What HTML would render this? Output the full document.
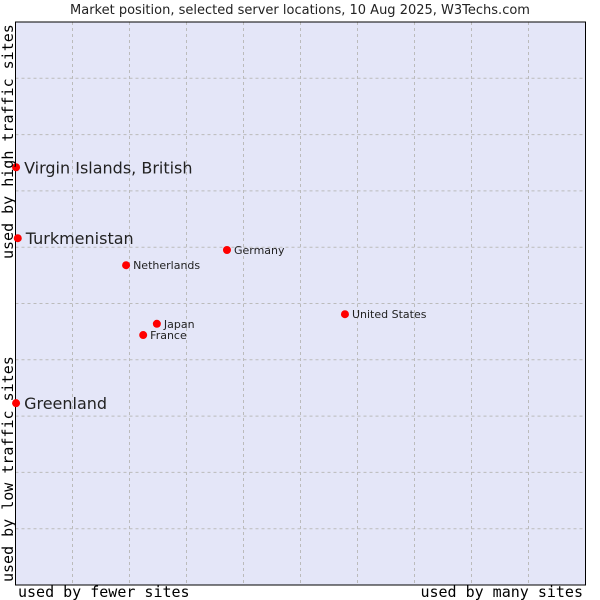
<!DOCTYPE html>
<html><head><meta charset="utf-8"><style>body{margin:0;background:#fff}svg{display:block}</style></head>
<body>
<svg id="chart" width="600" height="600" xmlns="http://www.w3.org/2000/svg" font-family="DejaVu Sans, Liberation Sans, sans-serif">
<text x="300" y="14" text-anchor="middle" font-size="13" fill="#222">Market position, selected server locations, 10 Aug 2025, W3Techs.com</text>
<rect x="15.5" y="22" width="570" height="563" fill="#e4e6f8"/>
<g id="grid"></g>
<rect x="15.5" y="22" width="570" height="563" fill="none" stroke="#000" stroke-width="1"/>
<g id="points"></g>
<text x="18" y="597" font-family="DejaVu Sans Mono, Liberation Mono, monospace" font-size="15" fill="#000">used by fewer sites</text>
<text x="583" y="597" text-anchor="end" font-family="DejaVu Sans Mono, Liberation Mono, monospace" font-size="15" fill="#000">used by many sites</text>
<text transform="translate(13,582) rotate(-90)" font-family="DejaVu Sans Mono, Liberation Mono, monospace" font-size="15" fill="#000">used by low traffic sites</text>
<text transform="translate(13,259) rotate(-90)" font-family="DejaVu Sans Mono, Liberation Mono, monospace" font-size="15" fill="#000">used by high traffic sites</text>
</svg>
<script>
const names = ["Virgin Islands, British","Turkmenistan","Greenland","Germany","Netherlands","United States","Japan","France"];
const xValues = [0.1,0.4,0.1,37.1,19.4,57.8,24.8,22.4];
const yValues = [74.2,61.6,32.3,59.5,56.8,48.1,46.4,44.4];
const bigLabel = [true,true,true,false,false,false,false,false];
const NS="http://www.w3.org/2000/svg";
const L=15.5,R=585.5,T=22,B=585;
function xs(v){return L+(R-L)*v/100;}
function ys(v){return B-(B-T)*v/100;}
const grid=document.getElementById('grid');
for(let i=1;i<10;i++){
  const vx=document.createElementNS(NS,'line');
  
  
  const x=xs(i*10);
  vx.setAttribute('x1',x);vx.setAttribute('x2',x);vx.setAttribute('y1',T);vx.setAttribute('y2',B);
  vx.setAttribute('stroke','#bbb');vx.setAttribute('stroke-dasharray','3,3');
  grid.appendChild(vx);
  const hy=document.createElementNS(NS,'line');
  
  
  const y=ys(i*10);
  hy.setAttribute('x1',L);hy.setAttribute('x2',R);hy.setAttribute('y1',y);hy.setAttribute('y2',y);
  hy.setAttribute('stroke','#bbb');hy.setAttribute('stroke-dasharray','3,3');
  grid.appendChild(hy);
}
const pts=document.getElementById('points');
names.forEach((n,i)=>{
  const x=xs(xValues[i]),y=ys(yValues[i]);
  const c=document.createElementNS(NS,'circle');
  
  
  c.setAttribute('cx',x);c.setAttribute('cy',y);c.setAttribute('r',4);c.setAttribute('fill','#f00');
  pts.appendChild(c);
  const t=document.createElementNS(NS,'text');
  
  
  const big=bigLabel[i];
  t.setAttribute('x',x+(big?8:7));t.setAttribute('y',y+(big?6:4));
  t.setAttribute('font-size',big?16:11);t.setAttribute('fill','#222');
  t.textContent=n;
  pts.appendChild(t);
});
</script>
</body></html>
